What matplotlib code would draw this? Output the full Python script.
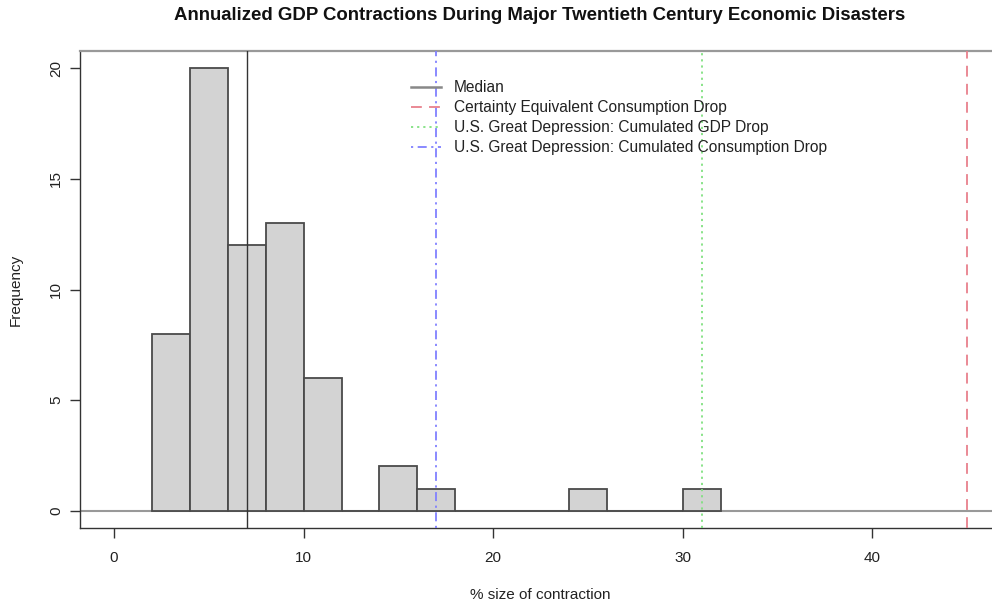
import matplotlib
matplotlib.use("Agg")
import matplotlib.pyplot as plt
import numpy as np
from matplotlib.lines import Line2D

plt.rcParams['font.family'] = ['Liberation Sans', 'DejaVu Sans']

# Data
bin_edges = [2, 4, 6, 8, 10, 12, 14, 16, 18, 20, 22, 24, 26, 28, 30, 32]
counts = [8, 20, 12, 13, 6, 0, 2, 1, 0, 0, 0, 1, 0, 0, 1]
median_val = 7
certainty_equiv = 45
gd_gdp_drop = 31
gd_cons_drop = 17
x_ticks = [0, 10, 20, 30, 40]
y_ticks = [0, 5, 10, 15, 20]

fig = plt.figure(figsize=(9.92, 6.05), dpi=100)
W, H = 992, 605
l, r, t, b = 80, 1001, 50.7, 528.3
ax = fig.add_axes([l / W, 1 - b / H, (r - l) / W, (b - t) / H])

lefts = np.array(bin_edges[:-1])
widths = np.diff(bin_edges)
ax.bar(lefts, counts, width=widths, align='edge', color='#d3d3d3',
       edgecolor='#4a4a4a', linewidth=1.3, zorder=2)

red_ls = (0, (6, 4))
green_ls = (0, (1.2, 2.2))
blue_ls = (0, (1.2, 2.5, 5, 2.5))

ax.axhline(0, color='#999999', linewidth=1.5, zorder=1)
ax.axvline(median_val, color='#333333', linewidth=1.0, zorder=3)
ax.axvline(certainty_equiv, color='#e8808c', linewidth=1.3, linestyle=red_ls, zorder=3)
ax.axvline(gd_gdp_drop, color='#80e080', linewidth=1.3, linestyle=green_ls, zorder=3)
ax.axvline(gd_cons_drop, color='#8080ff', linewidth=1.3, linestyle=blue_ls, zorder=3)

ax.set_xlim(-1.8, 46.8)
ax.set_ylim(-0.8, 20.8)

ax.spines['right'].set_visible(False)
ax.spines['top'].set_color('#999999')
ax.spines['top'].set_linewidth(1.6)
for s in ('left', 'bottom'):
    ax.spines[s].set_color('#333333')
    ax.spines[s].set_linewidth(1.0)

ax.set_xticks(x_ticks)
ax.set_yticks(y_ticks)
ax.set_yticklabels([str(v) for v in y_ticks], rotation=90, va='center')
ax.tick_params(axis='both', direction='out', length=7, width=1.0, color='#333333',
               labelsize=11, labelcolor='#222222')
ax.tick_params(axis='x', pad=9)
ax.tick_params(axis='y', pad=5)

fig.text(540 / W, 1 - 595 / H, '% size of contraction', ha='center', va='center',
         fontsize=11, color='#222222')
fig.text(16 / W, 1 - 289.5 / H, 'Frequency', ha='center', va='center', rotation=90,
         fontsize=11, color='#222222')
fig.text(540 / W, 1 - 16 / H, 'Annualized GDP Contractions During Major Twentieth Century Economic Disasters',
         ha='center', va='center', fontsize=13.4, fontweight='bold', color='#111111')

handles = [
    Line2D([], [], color='#888888', linewidth=1.8),
    Line2D([], [], color='#e8808c', linewidth=1.3, linestyle=red_ls),
    Line2D([], [], color='#80e080', linewidth=1.3, linestyle=green_ls),
    Line2D([], [], color='#8080ff', linewidth=1.3, linestyle=blue_ls),
]
labels = ['Median', 'Certainty Equivalent Consumption Drop',
          'U.S. Great Depression: Cumulated GDP Drop',
          'U.S. Great Depression: Cumulated Consumption Drop']
leg = ax.legend(handles, labels, loc='upper left',
                bbox_to_anchor=((411 - l) / (r - l), 1 - (80 - t) / (b - t)),
                frameon=False, fontsize=11.2, handlelength=1.9, handletextpad=0.85,
                labelspacing=0.33, borderaxespad=0, borderpad=0)
for txt in leg.get_texts():
    txt.set_color('#222222')

fig.savefig('out.png', dpi=100)
